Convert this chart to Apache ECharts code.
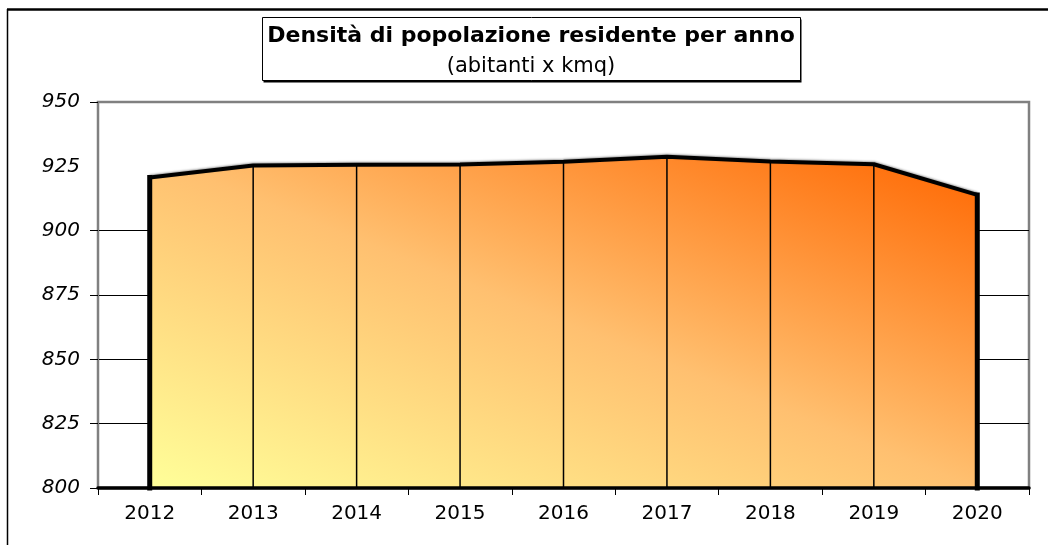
<!DOCTYPE html>
<html><head><meta charset="utf-8">
<script src="https://cdn.jsdelivr.net/npm/echarts@6/dist/echarts.min.js"></script>
<style>html,body{margin:0;padding:0;background:#fff}#c{width:1048px;height:545px}</style>
</head><body><div id="c"></div>
<script>
const years = ['2012', '2013', '2014', '2015', '2016', '2017', '2018', '2019', '2020'];
const density = [920.7, 925.3, 925.6, 925.7, 926.8, 928.7, 926.9, 925.8, 913.9];
const yMin = 800, yMax = 950, yStep = 25;
const yTickMarks = [800, 825, 850, 875, 900, 950];
const titleText = 'Densità di popolazione residente per anno';
const subtitleText = '(abitanti x kmq)';

const chart = echarts.init(document.getElementById('c'), null, {renderer: 'canvas'});
const FONT = '"DejaVu Sans", "Liberation Sans", Arial, sans-serif';
const gradStops = [
  {offset: 0, color: '#FFFF99'},
  {offset: 0.5, color: '#FFC070'},
  {offset: 1, color: '#FF6600'}
];

chart.setOption({
  animation: false,
  backgroundColor: '#fff',
  title: {
    text: titleText,
    subtext: subtitleText,
    left: 531,
    textAlign: 'center',
    top: 25,
    padding: 0,
    itemGap: 9,
    textStyle: {fontFamily: FONT, fontSize: 22, fontWeight: 'bold', color: '#000', lineHeight: 22},
    subtextStyle: {fontFamily: FONT, fontSize: 21, color: '#000', lineHeight: 21}
  },
  graphic: [
    {type: 'line', shape: {x1: 7, y1: 9.5, x2: 1048, y2: 9.5}, style: {stroke: '#000', lineWidth: 2.5}, z: 10},
    {type: 'line', shape: {x1: 7.5, y1: 9, x2: 7.5, y2: 545}, style: {stroke: '#000', lineWidth: 1.5}, z: 10},
    {type: 'rect', shape: {x: 263.5, y: 19.5, width: 538, height: 63}, z: -2, style: {fill: '#000'}},
    {type: 'rect', shape: {x: 262.5, y: 17.5, width: 538, height: 63}, z: -1,
     style: {fill: '#fff', stroke: '#000', lineWidth: 1}}
  ],
  grid: {left: 98, right: 19, top: 102, bottom: 57, show: true, borderColor: '#808080', borderWidth: 2.5, backgroundColor: 'transparent'},
  xAxis: {
    type: 'category',
    data: years,
    boundaryGap: true,
    z: 5,
    axisLine: {show: true, lineStyle: {color: '#000', width: 3.5}},
    axisTick: {show: true, length: 7, lineStyle: {color: '#000', width: 1}},
    axisLabel: {fontFamily: FONT, fontSize: 20, color: '#000', margin: 16},
    splitLine: {show: false}
  },
  yAxis: {
    type: 'value',
    min: yMin, max: yMax, interval: yStep,
    axisLine: {show: true, lineStyle: {color: '#808080', width: 2}},
    axisTick: {show: true, length: 8, customValues: yTickMarks, lineStyle: {color: '#000', width: 1}},
    axisLabel: {fontFamily: FONT, fontSize: 20, fontStyle: 'italic', color: '#000', margin: 18},
    splitLine: {show: true, lineStyle: {color: ['#000', '#000', '#000', '#000', '#000', 'transparent', 'transparent'], width: 1}}
  },
  series: [
    {
      type: 'line',
      data: density,
      symbol: 'none',
      smooth: false,
      z: 2,
      lineStyle: {color: '#000', width: 4, shadowColor: 'rgba(0,0,0,0.35)', shadowBlur: 2, shadowOffsetY: -1},
      areaStyle: {opacity: 1, color: '#FFC070'}
    },
    {
      type: 'custom',
      z: 3,
      data: density.map((v, i) => [i, v]),
      renderItem: function (params, api) {
        const i = api.value(0);
        const top = api.coord([i, api.value(1)]);
        const bot = api.coord([i, yMin]);
        const edge = params.dataIndex === 0 || params.dataIndex === density.length - 1;
        return {
          type: 'line',
          shape: {x1: top[0], y1: top[1], x2: bot[0], y2: bot[1]},
          style: {stroke: '#000', lineWidth: edge ? 5 : 1.5, lineCap: edge ? 'square' : 'butt'}
        };
      }
    }
  ]
});

// Diagonal gradient normalised to the area's bounding box (from library coordinates)
const p0 = chart.convertToPixel({gridIndex: 0}, [years[0], yMin]);
const p2 = chart.convertToPixel({gridIndex: 0}, [years[years.length - 1], Math.max.apply(null, density)]);
const w = p2[0] - p0[0], h = p0[1] - p2[1];
const c = 2 / (1 / (w * w) + 1 / (h * h));
chart.setOption({
  series: [{
    areaStyle: {
      opacity: 1,
      color: new echarts.graphic.LinearGradient(p0[0], p0[1], p0[0] + c / w, p0[1] - c / h, gradStops, true)
    }
  }]
});
</script>
</body></html>
